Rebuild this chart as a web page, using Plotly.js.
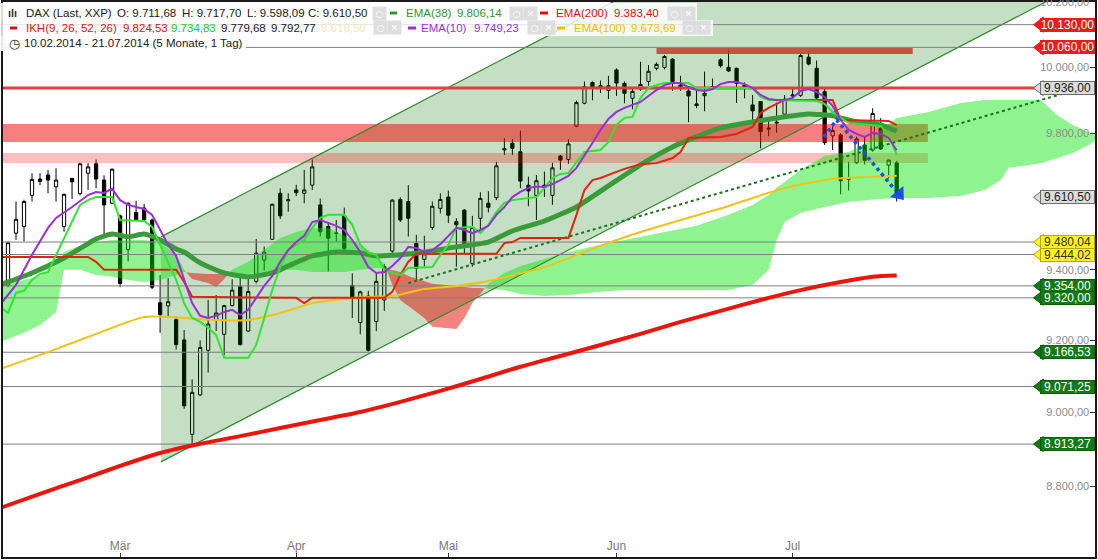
<!DOCTYPE html>
<html><head><meta charset="utf-8">
<script src="https://cdn.plot.ly/plotly-3.0.1.min.js"></script>
<style>html,body{margin:0;padding:0;background:#fff;overflow:hidden}#chart{width:1098px;height:560px}</style>
</head><body><div id="chart"></div>
<script>
// ---------------- DATA ----------------
const dates = ["2014-02-10","2014-02-11","2014-02-12","2014-02-13","2014-02-14","2014-02-17","2014-02-18","2014-02-19","2014-02-20","2014-02-21","2014-02-24","2014-02-25","2014-02-26","2014-02-27","2014-02-28",
"2014-03-03","2014-03-04","2014-03-05","2014-03-06","2014-03-07","2014-03-10","2014-03-11","2014-03-12","2014-03-13","2014-03-14","2014-03-17","2014-03-18","2014-03-19","2014-03-20","2014-03-21","2014-03-24","2014-03-25","2014-03-26","2014-03-27","2014-03-28","2014-03-31",
"2014-04-01","2014-04-02","2014-04-03","2014-04-04","2014-04-07","2014-04-08","2014-04-09","2014-04-10","2014-04-11","2014-04-14","2014-04-15","2014-04-16","2014-04-17","2014-04-22","2014-04-23","2014-04-24","2014-04-25","2014-04-28","2014-04-29","2014-04-30",
"2014-05-02","2014-05-05","2014-05-06","2014-05-07","2014-05-08","2014-05-09","2014-05-12","2014-05-13","2014-05-14","2014-05-15","2014-05-16","2014-05-19","2014-05-20","2014-05-21","2014-05-22","2014-05-23","2014-05-26","2014-05-27","2014-05-28","2014-05-29","2014-05-30",
"2014-06-02","2014-06-03","2014-06-04","2014-06-05","2014-06-06","2014-06-09","2014-06-10","2014-06-11","2014-06-12","2014-06-13","2014-06-16","2014-06-17","2014-06-18","2014-06-19","2014-06-20","2014-06-23","2014-06-24","2014-06-25","2014-06-26","2014-06-27","2014-06-30",
"2014-07-01","2014-07-02","2014-07-03","2014-07-04","2014-07-07","2014-07-08","2014-07-09","2014-07-10","2014-07-11","2014-07-14","2014-07-15","2014-07-16","2014-07-17","2014-07-18","2014-07-21"];

const openP = [9290,9356,9506,9525,9616,9664,9676,9641,9525,9666,
9621,9681,9709,9661,9593,9556,9458,9566,9579,9544,
9306,9297,9258,9201,8940,9048,9172,9258,9217,9298,
9352,9226,9367,9428,9488,9622,9600,9632,9622,9646,
9588,9525,9505,9556,9355,9250,9325,9253,9314,9454,
9604,9598,9476,9430,9522,9578,9611,9539,9573,9418,
9549,9593,9609,9750,9770,9745,9646,9616,9646,9616,
9732,9722,9821,9890,9953,9939,9929,9991,9950,9905,
9933,9956,9996,9999,10024,9945,9927,9888,9913,9937,
10022,9999,9996,9945,9885,9895,9812,9830,9857,9912,
9914,10030,9996,9925,9792,9795,9663,9712,9765,9750,
9815,9705,9711.68];
const highP = [9320,9482,9598,9603,9681,9681,9691,9696,9621,9667,
9711,9711,9722,9675,9695,9560,9595,9600,9591,9548,
9385,9376,9267,9229,9091,9200,9314,9328,9300,9373,
9380,9380,9489,9467,9592,9637,9622,9647,9691,9722,
9607,9535,9544,9580,9390,9340,9340,9390,9417,9605,
9610,9646,9501,9498,9598,9622,9630,9549,9575,9556,
9625,9628,9715,9785,9783,9808,9671,9676,9686,9712,
9735,9782,9898,9956,9956,9959,9973,9996,9956,9936,
10016,10006,10014,10037,10027,9973,9934,9930,9986,9965,
10027,10054,9998,9953,9915,9897,9840,9892,9915,9936,
10040,10044,10020,9935,9821,9800,9715,9790,9790,9875,
9845,9722,9717.70];
const lowP = [9265,9350,9486,9482,9598,9646,9622,9598,9510,9605,
9616,9632,9637,9501,9590,9350,9424,9542,9540,9345,
9221,9263,9174,9010,8913,9045,9110,9226,9158,9295,
9185,9224,9361,9398,9486,9547,9568,9614,9593,9632,
9496,9395,9481,9447,9263,9217,9169,9226,9283,9440,
9538,9496,9371,9409,9515,9563,9535,9409,9447,9409,
9515,9566,9602,9735,9735,9637,9584,9544,9611,9588,
9691,9709,9818,9887,9899,9921,9903,9912,9890,9872,
9927,9943,9990,9993,9927,9927,9833,9875,9866,9930,
9998,9985,9891,9905,9840,9755,9791,9801,9852,9905,
9909,10005,9903,9765,9750,9619,9630,9709,9707,9745,
9750,9665,9598.09];
const closeP = [9286,9478,9546,9598,9663,9657,9661,9661,9619,9656,
9709,9700,9664,9588,9693,9361,9593,9544,9544,9350,
9272,9309,9188,9018,9055,9180,9246,9277,9298,9342,
9188,9338,9448,9451,9590,9556,9603,9624,9632,9700,
9510,9491,9506,9461,9323,9337,9172,9367,9409,9602,
9544,9549,9404,9446,9584,9604,9558,9530,9471,9522,
9607,9581,9703,9754,9755,9658,9629,9659,9639,9697,
9720,9768,9892,9940,9939,9943,9943,9951,9920,9926,
9947,9987,10008,10032,9956,9938,9912,9883,9920,9940,
10004,9988,9950,9938,9867,9805,9815,9833,9902,9915,
10035,10009,9906,9772,9808,9659,9666,9783,9719,9859,
9753,9720,9610.50];

// month ticks
const tickDates = ["2014-03-03","2014-04-02","2014-05-02","2014-06-02","2014-07-02"];
const tickText = ["Mär","Apr","Mai","Jun","Jul"];
// 9.600 is hidden behind the 9.610,50 price tag in the reference
const priceTicks = [8800,9000,9200,9400,9800,10000,10200];

// moving averages (index into dates, value)
const ema200X = [0,5,10,15,20,25,30,35,40,45,50,55,60,65,70,75,80,85,90,95,100,105,109,112];
const ema200 = [8741,8779,8816,8854,8889,8914,8935,8957,8979,9001,9029,9059,9092,9126,9156,9187,9218,9252,9283,9314,9342,9365,9380,9383.40];
const ema100X = [0,6,12,18,23,27,31,35,39,45,49,53,57,61,68,75,80,91,98,104,112];
const ema100 = [9120,9167,9218,9266,9263,9257,9257,9277,9305,9322,9325,9345,9354,9368,9408,9469,9509,9585,9638,9664,9673.69];
const ema38X = [0,4,8,12,14,16,18,20,22,23,25,28,31,34,36,39,42,45,47,50,53,57,61,64,68,72,76,80,84,86,90,94,98,101,104,107,110,112];
const ema38 = [9357,9391,9434,9489,9503,9495,9503,9486,9460,9451,9420,9391,9380,9391,9411,9440,9451,9449,9440,9443,9451,9466,9480,9512,9541,9582,9644,9706,9759,9780,9816,9834,9849,9858,9852,9834,9825,9806.14];
const ema10X = [0,2,4,6,7,9,11,12,13,14,15,16,17,18,19,20,21,22,23,24,25,26,27,28,29,30,31,32,33,34,35,36,37,38,39,40,41,42,43,44,45,46,47,48,49,50,51,52,53,54,55,56,57,58,59,60,61,62,63,64,65,66,67,68,69,70,71,72,73,74,75,76,77,78,79,80,81,82,83,84,85,86,87,88,89,90,91,92,93,94,95,96,97,98,99,100,101,102,103,104,105,106,107,108,109,110,111,112];
const ema10 = [9300,9357,9443,9521,9550,9582,9617,9626,9623,9635,
9602,9588,9582,9576,9559,9515,9472,9440,9371,9305,
9269,9263,9269,9280,9286,9271,9286,9320,9354,9382,
9423,9457,9480,9498,9538,9544,9535,9527,9515,9486,
9451,9408,9391,9394,9411,9434,9466,9463,9451,9457,
9474,9498,9521,9515,9506,9515,9527,9559,9582,9611,
9626,9638,9641,9641,9649,9661,9673,9697,9732,9771,
9810,9843,9864,9876,9885,9894,9912,9930,9945,9951,
9951,9939,9930,9927,9933,9948,9954,9954,9948,9936,
9915,9903,9900,9900,9906,9927,9933,9924,9909,9882,
9840,9810,9798,9789,9801,9798,9786,9749.23];

// Ichimoku IKH(9,26,52,26)
const tenkanX = [0,1,2,3,4,5,6,7,8,9,10,11,12,14,15,18,19,20,21,22,23,24,25,26,27,28,31,32,33,34,35,36,37,38,39,40,41,43,44,45,46,47,48,50,51,54,55,56,57,59,60,61,62,63,64,67,68,69,70,71,72,73,75,76,77,78,79,80,81,82,83,86,87,94,95,96,102,103,104,105,106,110,111,112];
const tenkan = [9294,9277,9334,9340,9371,9388,9394,9443,9492,9538,9588,9602,9611,9611,9544,9541,9524,9472,9423,9371,9305,9263,9252,9235,9215,9151,9151,9187,9263,9342,9408,9457,9472,9486,9521,9550,9559,9559,9530,9472,9449,9443,9400,9385,9405,9408,9443,9472,9521,9524,9506,9530,9567,9594,9602,9611,9638,9667,9679,9682,9714,9744,9750,9774,9825,9846,9849,9906,9936,9945,9951,9951,9936,9936,9909,9900,9897,9888,9864,9846,9831,9822,9795,9734.83];
const kijunX = [0,11,12,13,22,23,24,37,38,39,48,49,50,51,52,62,63,64,65,71,72,73,74,75,77,78,80,82,84,85,86,90,92,94,95,96,97,98,104,105,111,112];
const kijun = [9437,9437,9423,9400,9400,9365,9323,9320,9305,9320,9320,9337,9385,9423,9446,9446,9477,9480,9492,9492,9559,9632,9661,9667,9685,9694,9708,9711,9726,9744,9786,9789,9798,9819,9861,9876,9888,9900,9900,9840,9837,9824.53];
const cloudX = [0,3,5,7,8,10,12,14,16,18,20,22,23,24,26,27,28,29,31,33,35,37,39,41,43,45,47,48,49,50,51,53,54,57,58,59,60,61,63,65,68,71,75,78,82,87,91,94,96,97,98,100,103,106,108,110,112,116,120,123,125,126,130,132,134,136,137];
const senkouA = [9362,9371,9382,9414,9451,9469,9480,9486,9486,9486,9480,9443,9400,9374,9362,9351,9374,9400,9423,9457,9492,9509,9521,9521,9498,9472,9440,9417,9357,9314,9297,9263,9238,9232,9263,9305,9331,9360,9391,9411,9431,9451,9472,9486,9503,9527,9559,9588,9617,9638,9655,9691,9732,9744,9768,9810,9846,9864,9891,9900,9900,9900,9900,9855,9825,9804,9798];
const senkouB = [9195,9221,9243,9280,9400,9400,9385,9380,9371,9365,9371,9385,9394,9391,9388,9388,9388,9388,9388,9394,9400,9400,9394,9394,9394,9400,9405,9405,9400,9394,9382,9368,9360,9354,9351,9348,9348,9345,9342,9331,9325,9328,9337,9342,9342,9342,9342,9357,9400,9486,9538,9565,9582,9597,9602,9605,9608,9608,9614,9632,9661,9697,9711,9726,9741,9765,9780];

// drawn objects
const channelX = [20.1, 140];
const channelUpper = [9495, 11056];
const channelLower = [8865, 10323];
const trendX = [51, 132.6];
const trendY = [9362, 9918];
const arrowX = [102.9, 104.5, 111.8];
const arrowY = [9789, 9840, 9632];
const arrowHeadX = [112.3];
const arrowHeadY = [9619];
const zoneRed = [9773.8, 9827.6];
const zonePink = [9711.4, 9741.1];
const zoneTop = [10039.7, 10058.1];
const zoneTopX = [82, 114];
const zonesEndX = 115.9;

// level tags
const levels = [10130.00, 10060.00, 9936.00, 9610.50, 9480.04, 9444.02, 9354.00, 9320.00, 9166.53, 9071.25, 8913.27];
const levelKind = ["red","red","greyR","grey","yellow","yellow","green","green","green","green","green"];

// ---------------- BUILD ----------------
const idx = dates.map((d,i)=>i);
const W=1098, H=560, ML=3, MR=3, MT=2, MB=3;
const PW=W-ML-MR, PH=H-MT-MB;
const P = px => (px-ML)/PW;
const Q = py => 1-(py-MT)/PH;
const xRange=[0.3755,136.77];
const yRange=[Math.log10(8611.5), Math.log10(10200.3)];
const TIP = 129.9;

function fmtDE(v){const s=v.toFixed(2);const [a,b]=s.split('.');return a.replace(/\B(?=(\d{3})+(?!\d))/g,'.')+','+b;}

const traces=[];
const noHover={hoverinfo:'skip',showlegend:false};

// channel
traces.push(Object.assign({type:'scatter',mode:'lines',x:[channelX[0],channelX[1],channelX[1],channelX[0]],y:[channelUpper[0],channelUpper[1],channelLower[1],channelLower[0]],fill:'toself',fillcolor:'rgba(0,115,0,0.23)',line:{width:0}},noHover));
// zones
function rectTrace(x0,x1,y0,y1,color){return Object.assign({type:'scatter',mode:'lines',x:[x0,x1,x1,x0],y:[y0,y0,y1,y1],fill:'toself',fillcolor:color,line:{width:0}},noHover);}
traces.push(rectTrace(-1,zonesEndX,zoneRed[0],zoneRed[1],'rgba(240,0,0,0.5)'));
traces.push(rectTrace(-1,zonesEndX,zonePink[0],zonePink[1],'rgba(255,0,0,0.25)'));
traces.push(rectTrace(zoneTopX[0],zoneTopX[1],zoneTop[0],zoneTop[1],'rgba(195,60,40,0.85)'));

// cloud
function cloudPolys(xs,A,B){
  const L=Math.log10;const polys=[];let cur=null;
  for(let k=0;k<xs.length;k++){
    const d=L(A[k])-L(B[k]);const s=d>=0?1:-1;
    if(!cur){cur={s,xs:[xs[k]],a:[A[k]],b:[B[k]]};continue;}
    if(s!==cur.s){
      const k0=k-1;const d0=L(A[k0])-L(B[k0]);const t=d0/(d0-d);
      const xc=xs[k0]+t*(xs[k]-xs[k0]);
      const pc=Math.pow(10,L(A[k0])+t*(L(A[k])-L(A[k0])));
      cur.xs.push(xc);cur.a.push(pc);cur.b.push(pc);polys.push(cur);
      cur={s,xs:[xc,xs[k]],a:[pc,A[k]],b:[pc,B[k]]};
    } else {cur.xs.push(xs[k]);cur.a.push(A[k]);cur.b.push(B[k]);}
  }
  polys.push(cur);return polys;
}
cloudPolys(cloudX,senkouA,senkouB).forEach(p=>{
  traces.push(Object.assign({type:'scatter',mode:'lines',x:p.xs.concat(p.xs.slice().reverse()),y:p.a.concat(p.b.slice().reverse()),fill:'toself',fillcolor:p.s>0?'rgba(0,230,0,0.44)':'rgba(230,10,0,0.5)',line:{width:0}},noHover));
});

// channel edges
traces.push(Object.assign({type:'scatter',mode:'lines',x:channelX,y:channelUpper,line:{color:'#2f8a2f',width:1.2}},noHover));
traces.push(Object.assign({type:'scatter',mode:'lines',x:channelX,y:channelLower,line:{color:'#2f8a2f',width:1.2}},noHover));

// horizontal levels
levels.forEach((v,i)=>{
  const k=levelKind[i];
  if(k==='grey') return;
  traces.push(Object.assign({type:'scatter',mode:'lines',x:[-1,TIP],y:[v,v],line:{color:k==='greyR'?'#e23c3c':'#7f7f7f',width:k==='greyR'?3:1}},noHover));
});

// dotted trend line
traces.push(Object.assign({type:'scatter',mode:'lines',x:trendX,y:trendY,line:{color:'#17741a',width:2,dash:'dot'}},noHover));

// indicators
traces.push(Object.assign({type:'scatter',mode:'lines',x:ema200X,y:ema200,line:{color:'#e8160c',width:4,shape:'spline',smoothing:0.6}},noHover));
traces.push(Object.assign({type:'scatter',mode:'lines',x:ema100X,y:ema100,line:{color:'#f2c218',width:2,shape:'spline',smoothing:0.6}},noHover));
traces.push(Object.assign({type:'scatter',mode:'lines',x:ema38X,y:ema38,line:{color:'#3b9b3b',width:5,shape:'spline',smoothing:0.5}},noHover));
traces.push(Object.assign({type:'scatter',mode:'lines',x:kijunX,y:kijun,line:{color:'#e4230e',width:2}},noHover));
traces.push(Object.assign({type:'scatter',mode:'lines',x:tenkanX,y:tenkan,line:{color:'#33e233',width:2}},noHover));
traces.push(Object.assign({type:'scatter',mode:'lines',x:ema10X,y:ema10,line:{color:'#9a2fd6',width:2}},noHover));

// candles
traces.push({type:'candlestick',x:idx,open:openP,high:highP,low:lowP,close:closeP,
  increasing:{line:{color:'#000',width:1},fillcolor:'#fff'},
  decreasing:{line:{color:'#000',width:1},fillcolor:'#000'},
  whiskerwidth:0,hoverinfo:'skip',showlegend:false});

// blue arrow
traces.push(Object.assign({type:'scatter',mode:'lines',x:arrowX,y:arrowY,line:{color:'#1d4fe6',width:3.5,dash:'dot'}},noHover));
traces.push(Object.assign({type:'scatter',mode:'markers',x:arrowHeadX,y:arrowHeadY,marker:{symbol:'triangle-right',angle:50,size:15,color:'#1d4fe6'}},noHover));

// tag tips
const tagStyle={red:{bg:'#ee1b1b',bd:'#ee1b1b',fc:'#fff'},greyR:{bg:'#dcdcdc',bd:'#6f6f6f',fc:'#222'},grey:{bg:'#dcdcdc',bd:'#6f6f6f',fc:'#222'},yellow:{bg:'#fff01e',bd:'#b9a800',fc:'#333'},green:{bg:'#137a13',bd:'#0d5e0d',fc:'#fff'}};
levels.forEach((v,i)=>{const st=tagStyle[levelKind[i]];
  traces.push(Object.assign({type:'scatter',mode:'markers',x:[TIP],y:[v],marker:{symbol:'triangle-left',size:13,color:st.bg,line:{color:st.bd,width:1}}},noHover));
});

// ---------------- ANNOTATIONS / SHAPES ----------------
const ann=[];const shapes=[];
levels.forEach((v,i)=>{const st=tagStyle[levelKind[i]];
  ann.push({xref:'paper',x:1,xanchor:'right',yref:'y',y:Math.log10(v),yanchor:'middle',text:fmtDE(v),showarrow:false,
    font:{family:'Liberation Sans, Arial, sans-serif',size:12,color:st.fc},bgcolor:st.bg,bordercolor:st.bd,borderwidth:1,borderpad:0,width:53,height:12});
});

const FF='Liberation Sans, Arial, sans-serif';
const T=(x,y,text,color,size)=>({xref:'paper',yref:'paper',x:P(x),y:Q(y),xanchor:'left',yanchor:'middle',text,showarrow:false,borderpad:0,font:{family:FF,size:size||11.5,color:color||'#1a1a1a'}});
const ICON=(x,y,s)=>({xref:'paper',yref:'paper',x:P(x),y:Q(y),xanchor:'left',yanchor:'middle',text:s,showarrow:false,bgcolor:'#dedede',borderpad:1,width:11,height:11,font:{family:'DejaVu Sans, sans-serif',size:9,color:'#fff'}});
const rectS=(x0,y0,x1,y1,c)=>({type:'rect',xref:'paper',yref:'paper',x0:P(x0),x1:P(x1),y0:Q(y1),y1:Q(y0),fillcolor:c,line:{width:0},layer:'above'});
const dashS=(x0,x1,y,c)=>({type:'line',xref:'paper',yref:'paper',x0:P(x0),x1:P(x1),y0:Q(y),y1:Q(y),line:{color:c,width:3},layer:'above'});

shapes.push(rectS(0,3,697,20,'rgba(255,255,255,0.85)'));
shapes.push(rectS(0,20,713,36,'rgba(255,255,255,0.8)'));
shapes.push(rectS(0,36,246,51,'rgba(255,255,255,0.9)'));
shapes.push(dashS(10,17,28,'#e01010'));
shapes.push(dashS(390,397,13,'#2c9a2c'));
shapes.push(dashS(540,548,13,'#e01010'));
shapes.push(dashS(408,416,28,'#9a2fd6'));
shapes.push(dashS(557,565,28,'#f0c000'));

// line 1
ann.push(T(7,13,'<b>ılı</b>','#333',11));
ann.push(T(25,13,'DAX (Last, XXP)'));
ann.push(T(116,13,'O: 9.711,68'));
ann.push(T(181,13,'H: 9.717,70'));
ann.push(T(246,13,'L: 9.598,09'));
ann.push(T(307,13,'C: 9.610,50'));
ann.push(ICON(372,13,'○'));
ann.push(T(405,13,'EMA(38)','#2c9a2c'));
ann.push(T(456,13,'9.806,14','#2c9a2c'));
ann.push(ICON(509,13,'○'));ann.push(ICON(523,13,'✕'));
ann.push(T(555,13,'EMA(200)','#e01010'));
ann.push(T(613,13,'9.383,40','#e01010'));
ann.push(ICON(667,13,'○'));ann.push(ICON(681,13,'✕'));
// line 2
ann.push(T(25,28,'IKH(9, 26, 52, 26)','#e01010'));
ann.push(T(122,28,'9.824,53','#e01010'));
ann.push(T(170,28,'9.734,83','#22c422'));
ann.push(T(220,28,'9.779,68'));
ann.push(T(270,28,'9.792,77'));
ann.push(T(320,28,'9.610,50','#f1eab8'));
ann.push(ICON(373,28,'○'));ann.push(ICON(387,28,'✕'));
ann.push(T(420,28,'EMA(10)','#9a2fd6'));
ann.push(T(473,28,'9.749,23','#9a2fd6'));
ann.push(ICON(527,28,'○'));ann.push(ICON(541,28,'✕'));
ann.push(T(573,28,'EMA(100)','#f0c000'));
ann.push(T(630,28,'9.673,69','#f0c000'));
ann.push(ICON(682,28,'○'));ann.push(ICON(696,28,'✕'));
// line 3
ann.push(T(8,43,'◷','#333',13));
ann.push(T(23,43,'10.02.2014 - 21.07.2014 (5 Monate, 1 Tag)',null,11.5));

const layout={
  width:W,height:H,margin:{l:ML,r:MR,t:MT,b:MB},paper_bgcolor:'#fff',plot_bgcolor:'#fff',
  showlegend:false,separators:',.',boxgap:0.42,dragmode:false,
  xaxis:{range:xRange,tickvals:tickDates.map(d=>dates.indexOf(d)),ticktext:tickText,ticks:'inside',ticklen:4,tickcolor:'#333',
    ticklabelposition:'inside',tickfont:{family:'Liberation Sans Narrow, Arial Narrow, Liberation Sans, Arial',size:12,color:'#7a7a7a'},
    showgrid:false,zeroline:false,showline:true,mirror:true,linecolor:'#1a1a1a',linewidth:2,rangeslider:{visible:false}},
  yaxis:{type:'log',side:'right',range:yRange,tickvals:priceTicks,tickformat:',.2f',ticks:'inside',ticklen:5,tickcolor:'#333',
    ticklabelposition:'inside',ticklabeloverflow:'allow',tickfont:{family:FF,size:11,color:'#8c8c8c'},
    showgrid:false,zeroline:false,showline:true,mirror:true,linecolor:'#1a1a1a',linewidth:2},
  annotations:ann,shapes:shapes
};
Plotly.newPlot('chart',traces,layout,{staticPlot:true,displayModeBar:false});
</script>
</body></html>
